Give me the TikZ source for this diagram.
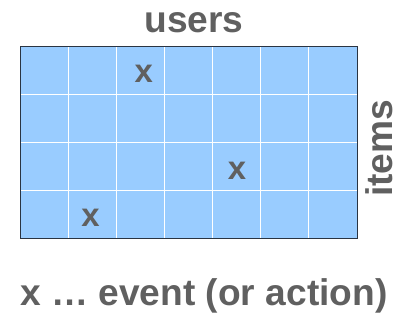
\documentclass[tikz,border=0pt]{standalone}
\usepackage{fontspec}
\setmainfont{Liberation Sans}
\usepackage{tikz}
\usetikzlibrary{positioning,calc}

\definecolor{cellblue}{HTML}{99CCFF}
\definecolor{labelgray}{HTML}{606060}
\definecolor{gridedge}{HTML}{2A3442}

\begin{document}
\begin{tikzpicture}[label text/.style={text=labelgray, font=\fontsize{22}{24}\selectfont\bfseries, inner sep=0pt},
				mark text/.style={text=labelgray, font=\fontsize{19.5}{22}\selectfont\bfseries, inner sep=0pt}]
				\useasboundingbox (0,0) rectangle (8.417,6.688);
				
				% the user x item matrix, 7 columns by 4 rows
				\coordinate (sw) at (0.417,1.729);
				\coordinate (ne) at (7.438,5.729);
				\fill[cellblue] (sw) rectangle (ne);
				\foreach \c in {1,...,6}
				\draw[white, line width=0.6pt] ($(sw)+(\c*1.003,0)$) -- ($(sw)+(\c*1.003,4)$);
				\foreach \r in {1,...,3}
				\draw[white, line width=0.6pt] ($(sw)+(0,\r)$) -- ($(sw)+(7.021,\r)$);
				\draw[gridedge, line width=0.5pt] (sw) rectangle (ne);
				
				% events in single cells
				\node[mark text] (e1) at ($(sw)+(2.58,3.42)$) {x};
				\node[mark text] (e2) at ($(sw)+(4.52,1.40)$) {x};
				\node[mark text] (e3) at ($(sw)+(1.47,0.43)$) {x};
				
				% axis names
				\node[label text, anchor=base] (users) at (4.04,6.02) {users};
				\node[label text, anchor=base, rotate=90] (items) at (8.167,3.594) {items};
				
				\node[label text, anchor=base west] (legend) at (0.417,0.333) {x … event (or action)};
				
				\end{tikzpicture}
\end{document}
